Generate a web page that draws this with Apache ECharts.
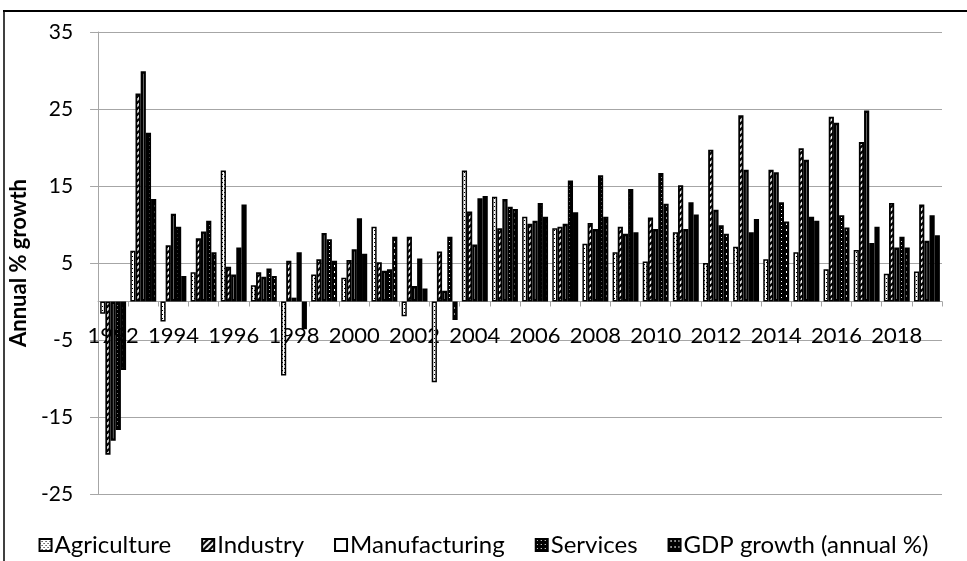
<!DOCTYPE html>
<html><head><meta charset="utf-8">
<script src="https://cdn.jsdelivr.net/npm/echarts@6/dist/echarts.min.js"></script>
<style>html,body{margin:0;padding:0;background:#fff}#c{width:967px;height:561px}</style>
</head><body><div id="c"></div>
<script>
const years = ['1992','1993','1994','1995','1996','1997','1998','1999','2000','2001','2002','2003','2004','2005','2006','2007','2008','2009','2010','2011','2012','2013','2014','2015','2016','2017','2018','2019'];
const agriculture = [-1.6, 6.6, -2.6, 3.8, 17.0, 2.1, -9.6, 3.5, 3.1, 9.7, -1.9, -10.5, 17.0, 13.6, 11.0, 9.5, 7.5, 6.4, 5.2, 9.0, 5.0, 7.1, 5.5, 6.4, 4.2, 6.7, 3.6, 3.9];
const industry = [-19.9, 27.0, 7.3, 8.2, 4.5, 3.8, 5.3, 5.5, 5.4, 5.1, 8.4, 6.5, 11.7, 9.5, 10.1, 9.7, 10.2, 9.7, 10.9, 15.1, 19.7, 24.2, 17.1, 19.9, 24.0, 20.7, 12.8, 12.6];
const manufacturing = [-18.1, 29.9, 11.4, 9.1, 3.5, 3.2, 0.5, 8.9, 6.8, 4.0, 2.0, 1.4, 7.4, 13.3, 10.5, 10.1, 9.4, 8.8, 9.4, 9.4, 11.9, 17.1, 16.8, 18.4, 23.2, 24.8, 7.0, 7.9];
const services = [-16.7, 21.9, 9.7, 10.5, 7.0, 4.3, 6.4, 8.1, 10.8, 4.2, 5.6, 8.4, 13.4, 12.3, 12.8, 15.7, 16.4, 14.6, 16.7, 12.9, 9.9, 9.0, 12.9, 11.0, 11.2, 7.6, 8.4, 11.2];
const gdp = [-8.9, 13.3, 3.3, 6.4, 12.6, 3.3, -3.6, 5.3, 6.2, 8.4, 1.7, -2.4, 13.7, 12.0, 11.0, 11.6, 11.0, 9.0, 12.7, 11.3, 8.8, 10.7, 10.4, 10.5, 9.6, 9.7, 7.0, 8.6];
const seriesNames = ['Agriculture','Industry','Manufacturing','Services','GDP growth (annual %)'];
const yTicks = {min: -25, max: 35, interval: 10};

function pattern(w, h, bg, fg, draw) {
  const c = document.createElement('canvas');
  c.width = w; c.height = h;
  const ctx = c.getContext('2d');
  ctx.fillStyle = bg; ctx.fillRect(0, 0, w, h);
  ctx.fillStyle = fg; ctx.strokeStyle = fg;
  draw(ctx);
  return {image: c, repeat: 'repeat'};
}
const pAgri = pattern(4, 4, '#fff', '#000', ctx => { ctx.fillRect(0,0,1,1); ctx.fillRect(2,2,1,1); });
const pInd = pattern(6, 6, '#fff', '#000', ctx => {
  ctx.lineWidth = 2.2;
  ctx.beginPath(); ctx.moveTo(-1,7); ctx.lineTo(7,-1); ctx.stroke();
  ctx.beginPath(); ctx.moveTo(-4,4); ctx.lineTo(4,-4); ctx.stroke();
  ctx.beginPath(); ctx.moveTo(2,10); ctx.lineTo(10,2); ctx.stroke();
});
const pServ = pattern(4, 4, '#000', '#fff', ctx => { ctx.fillRect(1,1,1,1); });
const pGdp = pattern(4, 6, '#000', '#fff', ctx => { ctx.fillRect(2,1,1,2); });

const styles = [
  {color: pAgri, borderColor: '#000', borderWidth: 1.5},
  {color: pInd, borderColor: '#000', borderWidth: 1.8},
  {color: '#fff', borderColor: '#000', borderWidth: 2.4},
  {color: pServ, borderColor: '#000', borderWidth: 1.8},
  {color: pGdp, borderColor: '#000', borderWidth: 2}
];
const dataSets = [agriculture, industry, manufacturing, services, gdp];

const font = 'Lato, "Liberation Sans", sans-serif';
const gridTop = 32, gridBottom = 67, chartH = 561;
const chart = echarts.init(document.getElementById('c'));
// pixel distance from grid bottom (value min) up to the zero line
const plotH = chartH - gridTop - gridBottom;
const zeroOffset = -plotH * (0 - yTicks.min) / (yTicks.max - yTicks.min);
chart.setOption({
  animation: false,
  textStyle: {fontFamily: font, color: '#000'},
  grid: {left: 97, right: 25, top: gridTop, bottom: gridBottom, containLabel: false},
  graphic: [
    {type: 'line', shape: {x1: 3, y1: 11, x2: 967, y2: 11}, style: {stroke: '#000', lineWidth: 2}},
    {type: 'line', shape: {x1: 4, y1: 11, x2: 4, y2: 561}, style: {stroke: '#000', lineWidth: 1.5}}
  ],
  legend: {
    data: seriesNames,
    left: 'center', top: 528,
    itemWidth: 12, itemHeight: 12, itemGap: 30,
    icon: 'rect',
    textStyle: {fontFamily: font, fontSize: 24, color: '#000', padding: [0,0,0,-2]}
  },
  xAxis: {
    type: 'category',
    data: years,
    boundaryGap: true,
    offset: zeroOffset,
    axisLine: {onZero: false, lineStyle: {color: '#a6a6a6', width: 1}},
    axisTick: {show: true, inside: false, length: 5, interval: 0, lineStyle: {color: '#a6a6a6'}},
    axisLabel: {interval: 1, fontSize: 22, margin: 23, color: '#000', fontFamily: font}
  },
  yAxis: {
    type: 'value',
    min: yTicks.min, max: yTicks.max, interval: yTicks.interval,
    name: 'Annual % growth',
    nameLocation: 'middle', nameGap: 63, nameRotate: 90,
    nameTextStyle: {fontSize: 22, fontWeight: 'bold', color: '#000', fontFamily: font},
    axisLine: {show: true, lineStyle: {color: '#a6a6a6'}},
    axisTick: {show: true, length: 8, lineStyle: {color: '#a6a6a6'}},
    axisLabel: {fontSize: 21, margin: 25, color: '#000', fontFamily: font},
    splitLine: {show: true, lineStyle: {color: '#a6a6a6', width: 1}}
  },
  series: dataSets.map((d, i) => ({
    name: seriesNames[i],
    type: 'bar',
    data: d,
    barGap: '0%',
    barCategoryGap: '14%',
    itemStyle: styles[i]
  }))
});
</script>
</body></html>
